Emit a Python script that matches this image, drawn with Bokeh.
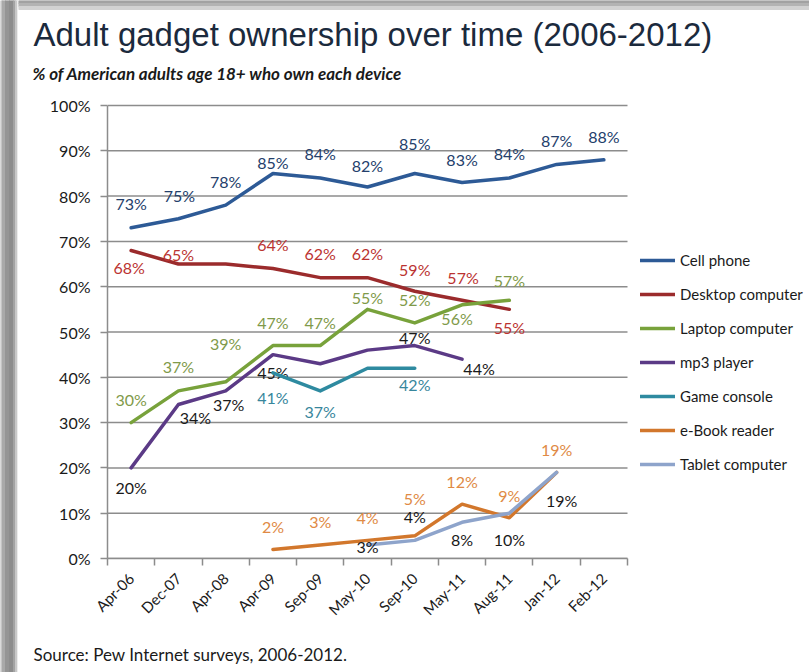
from bokeh.plotting import figure
from bokeh.layouts import column, row
from bokeh.models import (Range1d, FixedTicker, Legend, LegendItem, Label,
                          ColumnDataSource)
from bokeh.core.properties import value
from bokeh.embed import file_html
from bokeh.resources import INLINE
from math import pi

# ---------------- data ----------------
dates = ["Apr-06", "Dec-07", "Apr-08", "Apr-09", "Sep-09", "May-10",
         "Sep-10", "May-11", "Aug-11", "Jan-12", "Feb-12"]

cell_phone   = [73, 75, 78, 85, 84, 82, 85, 83, 84, 87, 88]
desktop      = [68, 65, 65, 64, 62, 62, 59, 57, 55, None, None]
laptop       = [30, 37, 39, 47, 47, 55, 52, 56, 57, None, None]
mp3_player   = [20, 34, 37, 45, 43, 46, 47, 44, None, None, None]
game_console = [None, None, None, 41, 37, 42, 42, None, None, None, None]
ebook_reader = [None, None, None, 2, 3, 4, 5, 12, 9, 19, None]
tablet       = [None, None, None, None, None, 3, 4, 8, 10, 19, None]

series_names = ["Cell phone", "Desktop computer", "Laptop computer", "mp3 player",
                "Game console", "e-Book reader", "Tablet computer"]
y_ticks = [0, 10, 20, 30, 40, 50, 60, 70, 80, 90, 100]

title_text = "Adult gadget ownership over time (2006-2012)"
subtitle_text = "% of American adults age 18+ who own each device"
source_text = "Source: Pew Internet surveys, 2006-2012."

# label placement (pixels, screen; None = no label)
cell_dx = [0, 1, 0, 0, 0, 0, 0, 0, 0, 0, 0]
cell_dy = [-24, -23, -24, -11, -24, -22, -30, -23, -24, -24, -23]
desk_dx = [-2, 0, 0, 0, 0, 0, 0, 1, 0, None, None]
desk_dy = [17, -10, None, -24, -24, -24, -22, -23, 18, None, None]
lap_dx = [0, 0, 0, 0, 0, 0, 0, -5, 0, None, None]
lap_dy = [-23, -24, -38, -23, -23, -12, -23, 14, -20, None, None]
mp3_dx = [0, 17, 3, 0, 0, 0, 0, 17, None, None, None]
mp3_dy = [20, 13, 14, 18, None, None, -8, 9, None, None, None]
game_dx = [None, None, None, 0, 0, 0, 0, None, None, None, None]
game_dy = [None, None, None, 25, 21, None, 16, None, None, None, None]
ebook_dx = [None, None, None, 0, 0, 0, 0, 0, 0, 0, None]
ebook_dy = [None, None, None, -23, -23, -23, -37, -23, -22, -23, None]
tab_dx = [None, None, None, None, None, 0, 0, 0, 0, 5, None]
tab_dy = [None, None, None, None, None, 2, -24, 17, 26, 28, None]

line_colors = ["#2d5a96", "#9b2b2c", "#78a23b", "#5b3a86", "#2e8aa0", "#d2772c", "#8ea4cb"]
label_colors = ["#24406b", "#bb3331", "#7f9a4a", "#1a1a1a", "#37869c", "#e08a45", "#1a1a1a"]

all_series = [cell_phone, desktop, laptop, mp3_player, game_console, ebook_reader, tablet]
all_dx = [cell_dx, desk_dx, lap_dx, mp3_dx, game_dx, ebook_dx, tab_dx]
all_dy = [cell_dy, desk_dy, lap_dy, mp3_dy, game_dy, ebook_dy, tab_dy]

# ---------------- page geometry (pixels) ----------------
W, H = 809, 672
SW = 18           # left shadow strip
HH = 88           # header height
FH = 42           # footer height
MH = H - HH - FH  # main figure height
PL, PR, PT, PB = 107, 627, 105, 558   # plot area (0..11 x 0..100%) on page
FRAME_TOP = 103
FONT = "Lato"
GRID = "#8c8c8c"


def blank(width, height, xr, yr):
    f = figure(width=width, height=height, x_range=xr, y_range=yr,
               output_backend="svg", toolbar_location=None,
               x_axis_location=None, y_axis_location=None,
               min_border=0, outline_line_color=None,
               background_fill_color="white", border_fill_color="white")
    f.grid.visible = False
    f.frame_align = False
    return f


# ---- left shadow strip ----
strip = blank(SW, H, Range1d(0, SW), Range1d(H, 0))
strip.quad(left=[0, 2, 5, 9, 13, 15, 17], right=[2, 5, 9, 13, 15, 17, 18],
           top=[0] * 7, bottom=[H] * 7,
           color=["#c4c4c4", "#a9a9a9", "#959595", "#8d8d8d", "#a3a3a3", "#c8c8c8", "#ececec"])

# ---- header ----
header = blank(W - SW, HH, Range1d(SW, W), Range1d(HH, 0))
header.quad(left=[SW] * 3, right=[W] * 3, top=[0, 3, 6], bottom=[3, 6, 9],
            color=["#a2a2a2", "#b3b3b3", "#d2d2d2"])
header.add_layout(Label(x=33, y=34, text=title_text, text_font="Liberation Sans",
                        text_font_size="33px", text_color="#1b2a3d",
                        text_baseline="alphabetic"))
header.add_layout(Label(x=32, y=73, text=subtitle_text, text_font=FONT,
                        text_font_size="17px", text_font_style="bold italic",
                        text_color="#1a1a1a", text_baseline="alphabetic"))

# ---- main chart ----
frame_w = W - PL
frame_h = PB - FRAME_TOP
x_end = len(dates) * frame_w / (PR - PL)
y_end = 100 * frame_h / (PB - PT)

p = figure(width=W - SW, height=MH, output_backend="svg", toolbar_location=None,
           x_range=Range1d(0, x_end), y_range=Range1d(0, y_end),
           min_border_left=PL - SW, min_border_right=0,
           min_border_top=FRAME_TOP - HH, min_border_bottom=HH + MH - PB,
           background_fill_color="white", border_fill_color="white",
           outline_line_color=None)
p.frame_align = False

# y axis
p.yaxis.ticker = FixedTicker(ticks=y_ticks)
p.yaxis.major_label_overrides = {t: f"{t}%" for t in y_ticks}
p.yaxis.bounds = (0, 100)
p.yaxis.axis_line_color = GRID
p.yaxis.axis_line_width = 1.5
p.yaxis.major_tick_line_color = GRID
p.yaxis.major_tick_line_width = 1.5
p.yaxis.major_tick_out = 7
p.yaxis.major_tick_in = 0
p.yaxis.minor_tick_line_color = None
p.yaxis.major_label_standoff = 10
p.yaxis.major_label_text_font = FONT
p.yaxis.major_label_text_font_size = "16px"
p.yaxis.major_label_text_color = "#1a1a1a"

# x axis: labels at category centres, ticks at boundaries
centers = [i + 0.5 for i in range(len(dates))]
bounds = list(range(len(dates) + 1))
p.xaxis.ticker = FixedTicker(ticks=centers, minor_ticks=bounds)
p.xaxis.major_label_overrides = {c: d for c, d in zip(centers, dates)}
p.xaxis.major_label_orientation = pi / 4
p.xaxis.bounds = (0, len(dates))
p.xaxis.axis_line_color = GRID
p.xaxis.axis_line_width = 1.5
p.xaxis.major_tick_line_color = None
p.xaxis.major_tick_out = 0
p.xaxis.major_tick_in = 0
p.xaxis.minor_tick_line_color = GRID
p.xaxis.minor_tick_line_width = 1.5
p.xaxis.minor_tick_out = 7
p.xaxis.minor_tick_in = 0
p.xaxis.major_label_standoff = 10
p.xaxis.major_label_text_font = FONT
p.xaxis.major_label_text_font_size = "15px"
p.xaxis.major_label_text_color = "#1a1a1a"

p.grid.visible = False
# horizontal grid lines restricted to the category span
p.segment(x0=[0] * len(y_ticks), x1=[len(dates)] * len(y_ticks), y0=y_ticks, y1=y_ticks,
          line_color=GRID, line_width=1.5)

legend_items = []
for name, vals, dxs, dys, lc, tc in zip(series_names, all_series, all_dx, all_dy,
                                         line_colors, label_colors):
    xs = [c for c, v in zip(centers, vals) if v is not None]
    ys = [v for v in vals if v is not None]
    r = p.line(xs, ys, line_color=lc, line_width=3.5, line_join="round", line_cap="round")
    lab = dict(x=[], y=[], t=[], dx=[], dy=[])
    for c, v, dx, dy in zip(centers, vals, dxs, dys):
        if v is None or dy is None:
            continue
        lab["x"].append(c); lab["y"].append(v); lab["t"].append(f"{v}%")
        lab["dx"].append(dx); lab["dy"].append(dy)
    p.text(x="x", y="y", text="t", x_offset="dx", y_offset="dy",
           source=ColumnDataSource(lab), text_font=value(FONT),
           text_font_size="16px", text_color=tc, text_align="center",
           text_baseline="middle")
    legend_items.append(LegendItem(label=name, renderers=[r]))

legend = Legend(items=legend_items, location=(640 - PL, PB - 474), orientation="vertical",
                padding=0, margin=0, spacing=14, glyph_width=35, glyph_height=20,
                label_height=20, label_standoff=5, label_text_font=FONT,
                label_text_font_size="15px", label_text_color="#1a1a1a",
                label_text_baseline="middle",
                border_line_color=None, background_fill_alpha=0)
p.add_layout(legend)

# ---- footer ----
footer = blank(W - SW, FH, Range1d(SW, W), Range1d(H, H - FH))
footer.add_layout(Label(x=33, y=654, text=source_text, text_font=FONT,
                        text_font_size="17px", text_color="#1a1a1a",
                        text_baseline="alphabetic"))

layout = row(strip, column(header, p, footer, spacing=0), spacing=0)
open("out.html", "w").write(file_html(layout, INLINE))
